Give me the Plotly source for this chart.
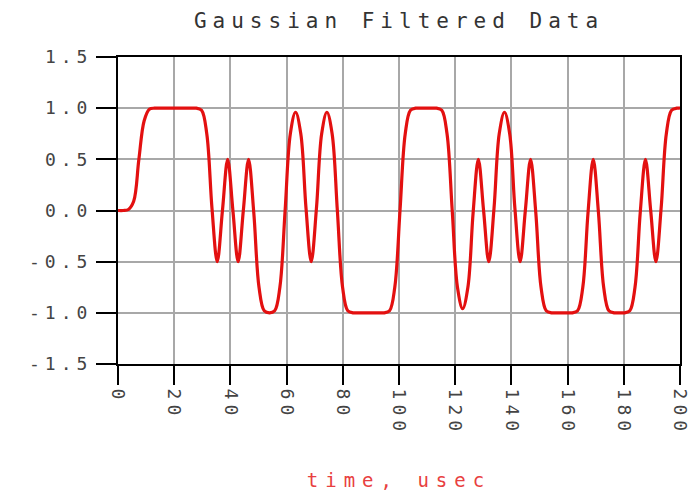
import plotly.graph_objects as go

# time samples (usec), half-bit spacing
time_us = [0, 1.86, 3.72, 5.58, 7.43, 9.29, 11.15, 13.01, 14.87, 16.73,
           18.59, 20.44, 22.30, 24.16, 26.02, 27.88, 29.74, 31.59, 33.45, 35.31,
           37.17, 39.03, 40.89, 42.75, 44.60, 46.46, 48.32, 50.18, 52.04, 53.90,
           55.76, 57.61, 59.47, 61.33, 63.19, 65.05, 66.91, 68.76, 70.62, 72.48,
           74.34, 76.20, 78.06, 79.92, 81.77, 83.63, 85.49, 87.35, 89.21, 91.07,
           92.93, 94.78, 96.64, 98.50, 100.36, 102.22, 104.08, 105.93, 107.79, 109.65,
           111.51, 113.37, 115.23, 117.09, 118.94, 120.80, 122.66, 124.52, 126.38, 128.24,
           130.10, 131.95, 133.81, 135.67, 137.53, 139.39, 141.25, 143.10, 144.96, 146.82,
           148.68, 150.54, 152.40, 154.26, 156.11, 157.97, 159.83, 161.69, 163.55, 165.41,
           167.27, 169.12, 170.98, 172.84, 174.70, 176.56, 178.42, 180.27, 182.13, 183.99,
           185.85, 187.71, 189.57, 191.43, 193.28, 195.14, 197.00, 198.86, 200.0]

# filtered data values
filtered = [0.0, 0.0, 0.01, 0.09, 0.50, 0.875, 0.99, 1.0, 1.0, 1.0,
            1.0, 1.0, 1.0, 1.0, 1.0, 1.0, 0.98, 0.75, 0.02, -0.5,
            0.0, 0.5, 0.0, -0.5, 0.0, 0.5, -0.02, -0.75, -0.98, -1.0,
            -0.98, -0.75, 0.0, 0.75, 0.96, 0.75, 0.02, -0.5, 0.02, 0.75,
            0.96, 0.75, 0.0, -0.75, -0.98, -1.0, -1.0, -1.0, -1.0, -1.0,
            -1.0, -1.0, -0.98, -0.75, 0.0, 0.75, 0.98, 1.0, 1.0, 1.0,
            1.0, 1.0, 0.98, 0.75, 0.0, -0.75, -0.96, -0.75, -0.02, 0.5,
            0.0, -0.5, 0.02, 0.75, 0.96, 0.75, 0.02, -0.5, 0.0, 0.5,
            -0.02, -0.75, -0.98, -1.0, -1.0, -1.0, -1.0, -1.0, -0.98, -0.75,
            -0.02, 0.5, -0.02, -0.75, -0.98, -1.0, -1.0, -1.0, -0.98, -0.75,
            -0.02, 0.5, 0.0, -0.5, 0.02, 0.75, 0.98, 1.0, 1.0]

x_ticks = [0, 20, 40, 60, 80, 100, 120, 140, 160, 180, 200]
y_ticks = [-1.5, -1.0, -0.5, 0.0, 0.5, 1.0, 1.5]
y_tick_labels = ["-1.5", "-1.0", "-0.5", "0.0", "0.5", "1.0", "1.5"]

SP = '<span style="letter-spacing:5px">{}</span>'

fig = go.Figure()
fig.add_trace(go.Scatter(
    x=time_us, y=filtered, mode="lines",
    line=dict(color="#e31010", width=3.2, shape="spline", smoothing=1.0),
    showlegend=False, hoverinfo="skip"))

font_family = "DejaVu Sans Mono"

fig.update_layout(
    width=690, height=493,
    margin=dict(l=118, r=10, t=57, b=129),
    paper_bgcolor="white", plot_bgcolor="white",
    title=dict(text='<span style="letter-spacing:6px">Gaussian Filtered Data</span>',
               x=0.5, xref="paper", xanchor="center",
               y=0.959, yref="container", yanchor="middle",
               font=dict(family=font_family, size=21, color="#333333")),
    xaxis=dict(
        automargin=False, ticklabeloverflow="allow",
        range=[0, 200], tickmode="array", tickvals=x_ticks,
        ticktext=[SP.format(v) for v in x_ticks],
        tickangle=90, ticks="outside", ticklen=19, tickwidth=2, tickcolor="black",
        showline=True, linecolor="black", linewidth=2, mirror=True,
        showgrid=True, gridcolor="#a8a8a8", gridwidth=1.5, zeroline=False,
        tickfont=dict(family=font_family, size=18, color="#444444"),
        title=dict(text='<span style="letter-spacing:7px">time, usec</span>',
                   font=dict(family=font_family, size=19, color="#e84040"),
                   standoff=39),
    ),
    yaxis=dict(
        automargin=False, ticklabeloverflow="allow",
        range=[-1.5, 1.5], tickmode="array", tickvals=y_ticks,
        ticktext=[SP.format(v) for v in y_tick_labels],
        ticks="outside", ticklen=20, tickwidth=2, tickcolor="black",
        showline=True, linecolor="black", linewidth=2, mirror=True,
        showgrid=True, gridcolor="#a8a8a8", gridwidth=1.5, zeroline=False,
        tickfont=dict(family=font_family, size=18, color="#444444"),
    ),
)

fig.write_html("out.html",
               config={"displayModeBar": False},
               post_script="document.body.style.margin='0';document.body.style.overflow='hidden';")
